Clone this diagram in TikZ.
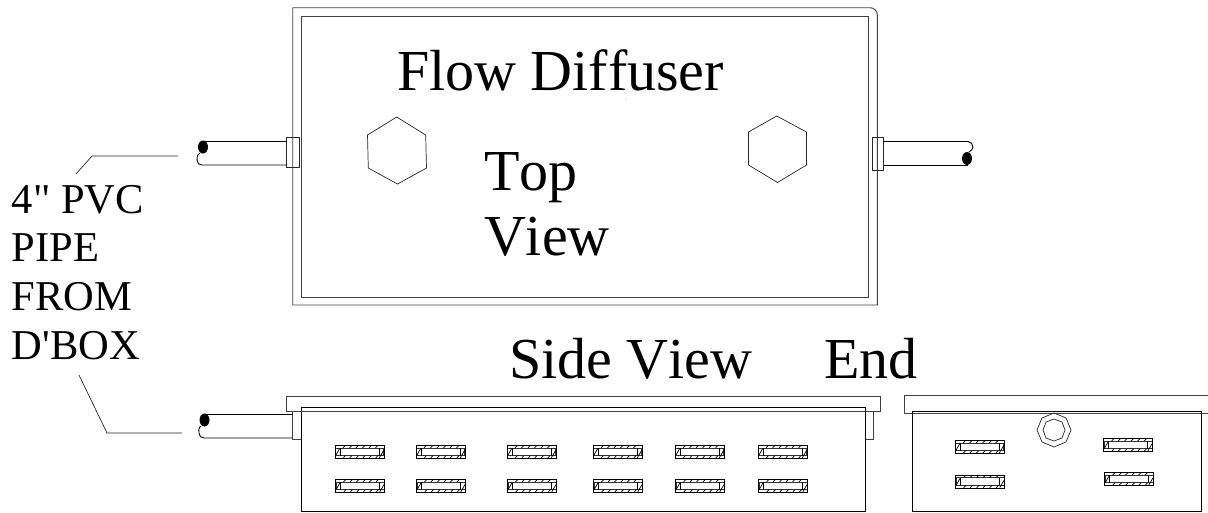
\documentclass[tikz,border=0pt]{standalone}
\usepackage{fontspec}
\newfontfamily\plainserif[Kerning=Off]{Liberation Serif}
\tikzset{
  x=1pt,y=-1pt,
  ln/.style={draw=black!75,line width=0.9pt},
  thin ln/.style={draw=black!85,line width=0.7pt},
  lbl/.style={anchor=base west,inner sep=0pt,outer sep=0pt,text=black},
  big/.style={lbl,font=\plainserif\fontsize{58}{58}\selectfont},
  small/.style={lbl,font=\plainserif\fontsize{42.5}{42.5}\selectfont},
  pics/slot/.style={code={
    \draw[black!80,line width=0.8pt] (0.5,2.7) rectangle (48.5,10.3);
    \draw[black,line width=1pt] (0,0) rectangle (49,13);
    \draw[black,line width=0.6pt] (5,2.7) -- (5,10.3);
    \draw[black,line width=0.6pt] (44,2.7) -- (44,10.3);
    \foreach \h in {8,14.5,21,27.5,34,40.5}
      \draw[black,line width=0.7pt] (\h,2.7) -- (\h+2.5,0);
    \foreach \h in {8,14.5,21,27.5,34,40.5}
      \draw[black,line width=0.7pt] (\h,13) -- (\h+2.5,10.3);
    \draw[black,line width=0.7pt] (0.5,10.5) -- (4.8,3);
    \draw[black,line width=0.7pt] (44.3,12.5) -- (48.7,5);
  }}
}
\begin{document}
\begin{tikzpicture}
\useasboundingbox (0,0) rectangle (1208,512);
% top view
\draw[ln] (292.7,305) -- (292.7,7.7) -- (870,7.7) to[out=0,in=90] (877.3,15) -- (877.3,305) -- cycle;
\draw[ln] (301,16) rectangle (868.7,297);
\draw[thin ln] (396.7,117) -- (425.7,135) -- (426.5,168) -- (397.5,184) -- (368.3,168) -- (367.5,135) -- cycle;
\draw[thin ln] (776.7,116) -- (806.5,132) -- (806.5,165) -- (777.5,182.5) -- (748.5,165) -- (748.5,132) -- cycle;
% left pipe, top view
\draw[thin ln] (286.5,137) rectangle (299,167.5);
\draw[black,line width=0.9pt] (203,141) -- (286.5,141);
\draw[black,line width=0.9pt] (200,153) .. controls (197,155) and (197,157) .. (197,160) .. controls (197,163) and (199,165) .. (202,165) -- (286.5,165);
\fill[black] (203,147) ellipse [x radius=5,y radius=6.5];
% right pipe, top view
\draw[thin ln] (872.3,137) rectangle (883.5,170);
\draw[black,line width=0.9pt] (883.5,141.5) -- (968,141.5) .. controls (971,142) and (973,144) .. (973,147) .. controls (973,149) and (971,151) .. (969,152);
\draw[black,line width=0.9pt] (883.5,165) -- (968,165);
\fill[black] (967,158.5) ellipse [x radius=5,y radius=6.5];
% side view
\draw[ln] (286,396.7) rectangle (880,411.7);
\draw[ln,fill=white] (865,411.7) rectangle (873.5,439);
\draw[ln,fill=white] (292.5,411.7) rectangle (301,439);
\draw[black,line width=0.9pt] (203,414) -- (292.5,414);
\draw[black,line width=0.9pt] (201,426) .. controls (198,428) and (199,431) .. (199,433) .. controls (199,436) and (201,438) .. (204,438) -- (292.5,438);
\fill[black] (204.5,420) ellipse [x radius=5,y radius=6.5];
\draw[black,line width=0.9pt,fill=white] (301,407.3) rectangle (865,511);
\draw[ln] (301,411.7) -- (865,411.7);
\foreach \sx in {335,416,507,593,675,758} {
  \pic at (\sx,445.3) {slot};
  \pic at (\sx+0.5,479.3) {slot};
}
% end view
\draw[ln] (1208,395) -- (904,395) -- (904,413) -- (1208,413);
\draw[black,line width=0.9pt] (912.5,411) rectangle (1201,511);
\draw[thin ln] (1037,430) -- (1042,418) -- (1054,413) -- (1066,418) -- (1071,430) -- (1066,442) -- (1054,447) -- (1042,442) -- cycle;
\draw[thin ln] (1043,430) -- (1046,422) -- (1054,419) -- (1062,422) -- (1065,430) -- (1062,438) -- (1054,441) -- (1046,438) -- cycle;
\pic at (955,440.5) {slot};
\pic at (955.5,475) {slot};
\pic at (1103.5,438.5) {slot};
\pic at (1104.5,472.5) {slot};
% labels
\node[big] (title) at (397,90) {Flow Diffuser};
\node[big] (top) at (484,190) {Top};
\node[big] (view) at (484,255) {View};
\node[big] (side) at (509,378) {Side View};
\node[big] (endv) at (824,378) {End};
\node[small] (l1) at (12,213) {4" PVC};
\node[small] (l2) at (12,261) {PIPE};
\node[small] (l3) at (12,310) {FROM};
\node[small] (l4) at (12,359) {D'BOX};
% leaders
\coordinate (a0) at (76,174); \coordinate (a1) at (92,156); \coordinate (a2) at (178,156);
\coordinate (b0) at (79,375); \coordinate (b1) at (107,433); \coordinate (b2) at (182,433);
\draw[thin ln] (a0) -- (a1) -- (a2);
\draw[thin ln] (b0) -- (b1) -- (b2);
\fill[black!60] (626,99) circle (0.5);
\end{tikzpicture}
\end{document}
